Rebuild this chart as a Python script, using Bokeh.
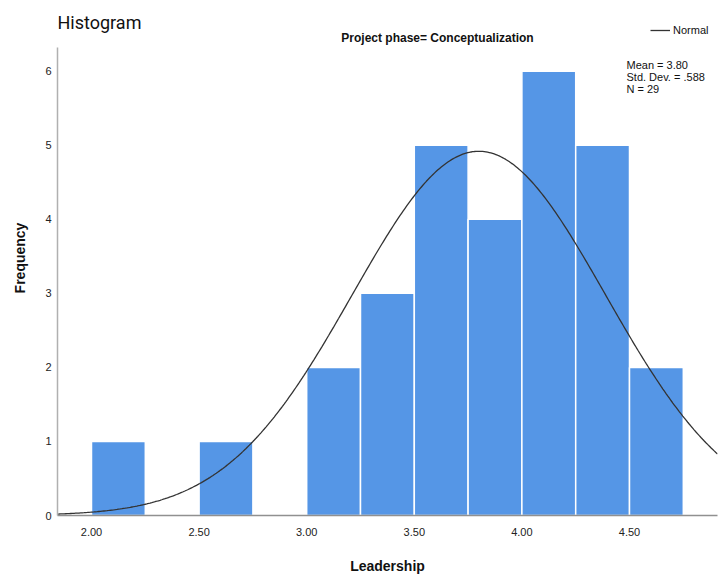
import numpy as np
from bokeh.plotting import figure
from bokeh.models import Label, Legend, LegendItem, FixedTicker, NumeralTickFormatter, Range1d, ColumnDataSource
from bokeh.embed import file_html
from bokeh.resources import INLINE

# ---- data ----
bin_left = [2.00, 2.25, 2.50, 2.75, 3.00, 3.25, 3.50, 3.75, 4.00, 4.25, 4.50]
bin_right = [2.25, 2.50, 2.75, 3.00, 3.25, 3.50, 3.75, 4.00, 4.25, 4.50, 4.75]
counts = [1, 0, 1, 0, 2, 3, 5, 4, 6, 5, 2]
mean = 3.80
std_dev = 0.588
n_obs = 29
x_ticks = [2.0, 2.5, 3.0, 3.5, 4.0, 4.5]
y_ticks = [0, 1, 2, 3, 4, 5, 6]
title_text = "Histogram"
subtitle_text = "Project phase= Conceptualization"
x_label = "Leadership"
y_label = "Frequency"
stats_lines = ["Mean = 3.80", "Std. Dev. = .588", "N = 29"]

# ---- layout geometry (pixels) ----
W, H = 720, 576
FL, FR, FT, FB = 57, 717, 0, 517  # frame edges
XS = 215.2
X0 = 2.0 - (91 - FL) / XS
YS = 74.33
Y1 = (FB - FT) / YS
Y_AXIS_TOP = (FB - 47) / YS

def dx(px):
    return X0 + (px - FL) / XS

def dy(py):
    return (FB - py) / YS

p = figure(width=W, height=H, output_backend="svg", toolbar_location=None,
           x_range=Range1d(X0, X0 + (FR - FL) / XS), y_range=Range1d(0, Y1),
           min_border_left=FL, min_border_right=W - FR,
           min_border_top=FT, min_border_bottom=H - FB)
p.outline_line_color = None
p.xgrid.visible = False
p.ygrid.visible = False
p.background_fill_color = "white"
p.border_fill_color = "white"

src = ColumnDataSource(dict(
    left=[l for l, c in zip(bin_left, counts) if c > 0],
    right=[r for r, c in zip(bin_right, counts) if c > 0],
    top=[c for c in counts if c > 0]))
p.quad(left="left", right="right", top="top", bottom=0, source=src,
       fill_color="#5596E6", line_color="white", line_width=1.5)

bw = bin_right[0] - bin_left[0]
xc = np.linspace(X0, X0 + (FR - FL) / XS, 400)
yc = n_obs * bw * np.exp(-0.5 * ((xc - mean) / std_dev) ** 2) / (std_dev * np.sqrt(2 * np.pi))
curve = p.line(xc, yc, line_color="#333333", line_width=1.3)

for ax in (p.xaxis[0], p.yaxis[0]):
    ax.axis_line_width = 1.5
    ax.major_tick_line_color = None
    ax.minor_tick_line_color = None
    ax.major_tick_out = 0
    ax.major_tick_in = 0
    ax.minor_tick_out = 0
    ax.minor_tick_in = 0
    ax.major_label_text_font = "Liberation Sans"
    ax.major_label_text_font_size = "11px"
    ax.major_label_text_color = "#222222"
    ax.axis_label_text_font = "Liberation Sans"
    ax.axis_label_text_font_size = "14px"
    ax.axis_label_text_font_style = "bold"
    ax.axis_label_text_color = "#111111"
p.xaxis.axis_line_color = "#909090"
p.yaxis.axis_line_color = "#b0b0b0"
p.xaxis.ticker = FixedTicker(ticks=x_ticks)
p.xaxis.formatter = NumeralTickFormatter(format="0.00")
p.xaxis.major_label_standoff = 12
p.xaxis.axis_label = x_label
p.xaxis.axis_label_standoff = 19
p.yaxis.ticker = FixedTicker(ticks=y_ticks)
p.yaxis.major_label_standoff = 6
p.yaxis.bounds = (0, Y_AXIS_TOP)
p.yaxis.axis_label = y_label
p.yaxis.axis_label_standoff = 14

p.add_layout(Label(x=dx(57), y=dy(22), text=title_text, text_font="Roboto",
                   text_font_size="18px", text_baseline="middle", text_align="left",
                   text_color="#111111"))
p.add_layout(Label(x=dx(437), y=dy(38), text=subtitle_text, text_font="Liberation Sans",
                   text_font_size="12px", text_font_style="bold", text_baseline="middle",
                   text_align="center", text_color="#111111"))

for i, s in enumerate(stats_lines):
    p.add_layout(Label(x=dx(626), y=dy(65 + 12 * i), text=s, text_font="Liberation Sans",
                       text_font_size="11px", text_baseline="middle", text_align="left",
                       text_color="#111111"))

legend = Legend(items=[LegendItem(label="Normal", renderers=[curve])],
                location=(650 - FL, FB - 38), padding=0, margin=0, spacing=0,
                glyph_width=20, glyph_height=12, label_standoff=3,
                label_text_font="Liberation Sans", label_text_font_size="11px",
                label_text_color="#111111", border_line_color=None,
                background_fill_alpha=0)
p.add_layout(legend)

open("out.html", "w").write(file_html(p, INLINE))
